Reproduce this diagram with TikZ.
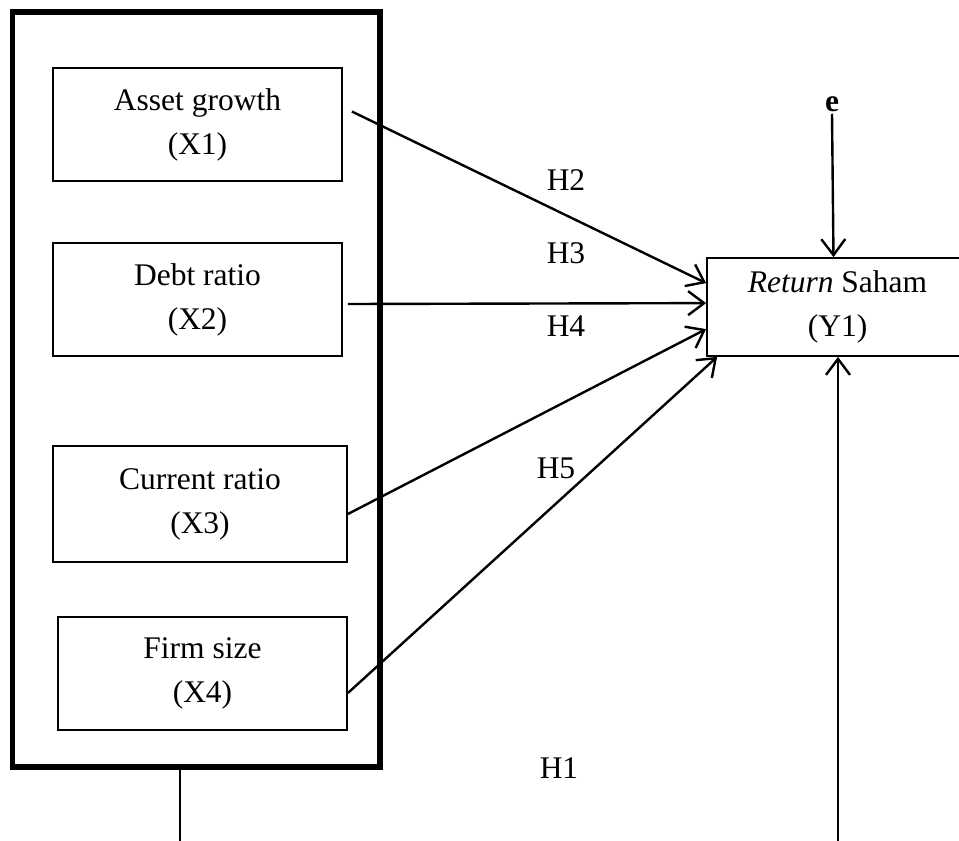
\documentclass[tikz,border=0pt]{standalone}
\usepackage{fontspec}
\setmainfont{Liberation Serif}
\usetikzlibrary{arrows.meta,calc}
\begin{document}
\begin{tikzpicture}[x=1pt,y=-1pt,
  font=\fontsize{31.5}{44}\selectfont,
  varbox/.style={draw,line width=1.8pt,align=center,inner sep=0pt},
  conn/.style={line width=2.4pt,-{Straight Barb[length=16pt,width=24pt,line width=2.4pt]}},
  hlab/.style={inner sep=0pt}]
\useasboundingbox (0,0) rectangle (959,841);
\draw[line width=5.5pt] (12.5,12) rectangle (380,767);
\node[varbox,minimum width=289pt,minimum height=113pt] (x1) at (197.5,124.5) {Asset growth\\(X1)};
\node[varbox,minimum width=289pt,minimum height=113pt] (x2) at (197.5,299.5) {Debt ratio\\(X2)};
\node[varbox,minimum width=294pt,minimum height=116pt] (x3) at (200,504) {Current ratio\\(X3)};
\node[varbox,minimum width=289pt,minimum height=113pt] (x4) at (202.5,673.5) {Firm size\\(X4)};
\node[varbox,minimum width=261pt,minimum height=98pt] (y1) at (837.5,307) {\textit{Return} Saham\\(Y1)};
\node[hlab,font=\fontsize{31.5}{44}\selectfont\bfseries] (e) at (832,104) {e};
\node[hlab] (h2) at (566,180) {H2};
\node[hlab] (h3) at (566,253) {H3};
\node[hlab] (h4) at (566,326) {H4};
\node[hlab] (h5) at (556,468) {H5};
\node[hlab] (h1) at (559,768) {H1};
\coordinate (b1) at (180,770);
\coordinate (b1e) at (180,841);
\coordinate (b2) at (838,841);
\draw[conn] ($(x1.east)+(9,-13)$) -- ($(y1.north west)+(0,26)$);
\draw[conn] ($(x2.east)+(5,4.5)$) -- ($(y1.north west)+(0,46)$);
\draw[conn] ($(x3.east)+(0,10)$) -- ($(y1.north west)+(0,72)$);
\draw[conn] ($(x4.east)+(0,19.5)$) -- ($(y1.south west)+(11,0)$);
\draw[conn] (e.south) ++(0,2) -- ($(y1.north)+(-4,0)$);
\draw[conn] (b2) -- (b2 |- y1.south);
\draw[line width=1.6pt] (b1) -- (b1e);
\end{tikzpicture}
\end{document}
